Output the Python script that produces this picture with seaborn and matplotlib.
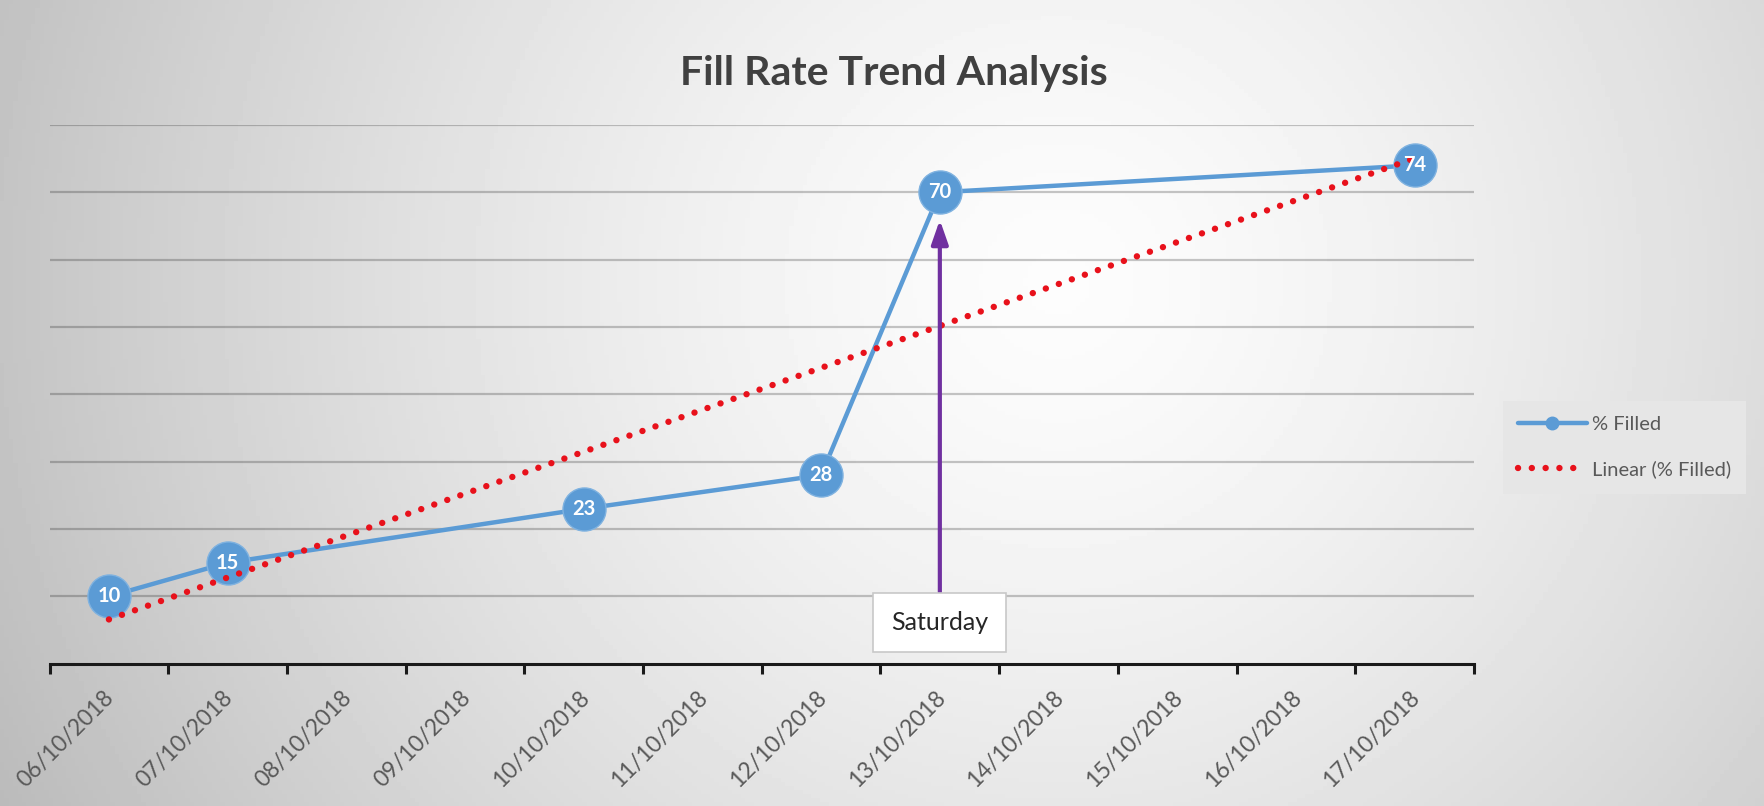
import numpy as np
import pandas as pd
import matplotlib
matplotlib.use("Agg")
import matplotlib.pyplot as plt
import matplotlib.transforms as mtransforms
from matplotlib.lines import Line2D
import seaborn as sns

# ---- data ----
axis_dates = ['06/10/2018', '07/10/2018', '08/10/2018', '09/10/2018', '10/10/2018',
              '11/10/2018', '12/10/2018', '13/10/2018', '14/10/2018', '15/10/2018',
              '16/10/2018', '17/10/2018']
filled_dates = ['06/10/2018', '07/10/2018', '10/10/2018', '12/10/2018', '13/10/2018', '17/10/2018']
pct_filled = [10, 15, 23, 28, 70, 74]
y_grid = [10, 20, 30, 40, 50, 60, 70, 80]
title = "Fill Rate Trend Analysis"
series_label = "% Filled"
trend_label = "Linear (% Filled)"
note_text = "Saturday"
note_date = '13/10/2018'

df = pd.DataFrame({"date": filled_dates, "pct": pct_filled})
df["pos"] = [axis_dates.index(d) for d in df["date"]]

sns.set_theme(style="white")
plt.rcParams['font.family'] = ['Lato', 'DejaVu Sans']

BLUE = '#5B9BD5'
RED = '#E8111B'
PURPLE = '#7030A0'
TXT = '#595959'

fig = plt.figure(figsize=(17.64, 8.06), dpi=100)

# background gradient
bg = fig.add_axes([0, 0, 1, 1], zorder=-10)
xx, yy = np.meshgrid(np.linspace(0, 1, 400), np.linspace(0, 1, 200))
d = np.sqrt(((xx - 0.60) / 0.75) ** 2 + ((yy - 0.35) / 1.6) ** 2)
val = np.clip(0.99 - 0.30 * d ** 1.4, 0, 1)
bg.imshow(val, cmap='gray', vmin=0, vmax=1, aspect='auto', extent=[0, 1, 0, 1], origin='upper')
bg.set_axis_off()

ax = fig.add_axes([0.0281, 0.1765, 0.8075, 0.6685])
ax.set_facecolor('none')

ax.set_xlim(-0.5, len(axis_dates) - 0.5)
ax.set_ylim(0, 80)

for g in y_grid:
    ax.axhline(g, color='black', alpha=0.22, lw=1.6, zorder=1)

sns.lineplot(data=df, x="pos", y="pct", ax=ax, color=BLUE, lw=3.2, marker='o',
             markersize=31, markeredgecolor='#7fb2e0', markeredgewidth=1.0, zorder=3,
             legend=False)

sns.regplot(data=df, x="pos", y="pct", ax=ax, scatter=False, ci=None, truncate=True,
            line_kws=dict(color=RED, lw=4.6, ls=(0, (0.01, 2.15)), dash_capstyle='round', zorder=4))
ax.set_ylim(0, 80)
ax.set_xlim(-0.5, len(axis_dates) - 0.5)

for p, v in zip(df["pos"], df["pct"]):
    ax.text(p, v, str(v), color='white', fontsize=14.5, fontweight='bold',
            ha='center', va='center', zorder=6)

# annotation
note_pos = axis_dates.index(note_date)
ax.annotate(note_text, xy=(note_pos, 65.9), xytext=(note_pos, 6.1),
            ha='center', va='center', fontsize=18, color='#262626', zorder=7,
            bbox=dict(boxstyle='square,pad=0.72', fc='white', ec='#c8c8c8', lw=1.2),
            arrowprops=dict(arrowstyle='-|>,head_length=0.8,head_width=0.28', color=PURPLE, lw=3.0,
                            shrinkA=0, shrinkB=0))

# axes styling
for s in ['top', 'left', 'right']:
    ax.spines[s].set_visible(False)
ax.spines['bottom'].set_color('#1a1a1a')
ax.spines['bottom'].set_linewidth(2.2)
ax.set_yticks([])
ax.set_xlabel('')
ax.set_ylabel('')
ax.set_xticks(np.arange(len(axis_dates)))
ax.set_xticklabels(axis_dates, rotation=45, ha='right', rotation_mode='anchor',
                   fontsize=16.5, color=TXT, va='center')
ax.set_xticks(np.arange(-0.5, len(axis_dates)), minor=True)
ax.tick_params(axis='x', which='major', length=0, pad=22)
ax.tick_params(axis='x', which='minor', length=7, width=2.2, color='#1a1a1a', direction='out', bottom=True)
offset = mtransforms.ScaledTranslation(2 / 100, 0, fig.dpi_scale_trans)
for lab in ax.get_xticklabels():
    lab.set_transform(lab.get_transform() + offset)

fig.text(0.507, 0.909, title, ha='center', va='center', fontsize=29.5, fontweight='bold', color='#404040')

handles = [Line2D([], [], color=BLUE, lw=3.2, marker='o', markersize=9),
           Line2D([], [], color=RED, lw=4.6, ls=(0, (0.01, 2.15)), dash_capstyle='round')]
leg = fig.legend(handles, [series_label, trend_label], loc='center left',
                 bbox_to_anchor=(0.852, 0.445), frameon=True, fontsize=14.5,
                 handlelength=3.4, labelspacing=1.35, borderpad=0.75, handletextpad=0.25,
                 borderaxespad=0)
leg.get_frame().set_facecolor('#e6e6e6')
leg.get_frame().set_edgecolor('none')
leg.get_frame().set_alpha(1)
leg.get_frame().set_boxstyle('square', pad=0)
for t in leg.get_texts():
    t.set_color(TXT)

fig.savefig('out.png', dpi=100)
